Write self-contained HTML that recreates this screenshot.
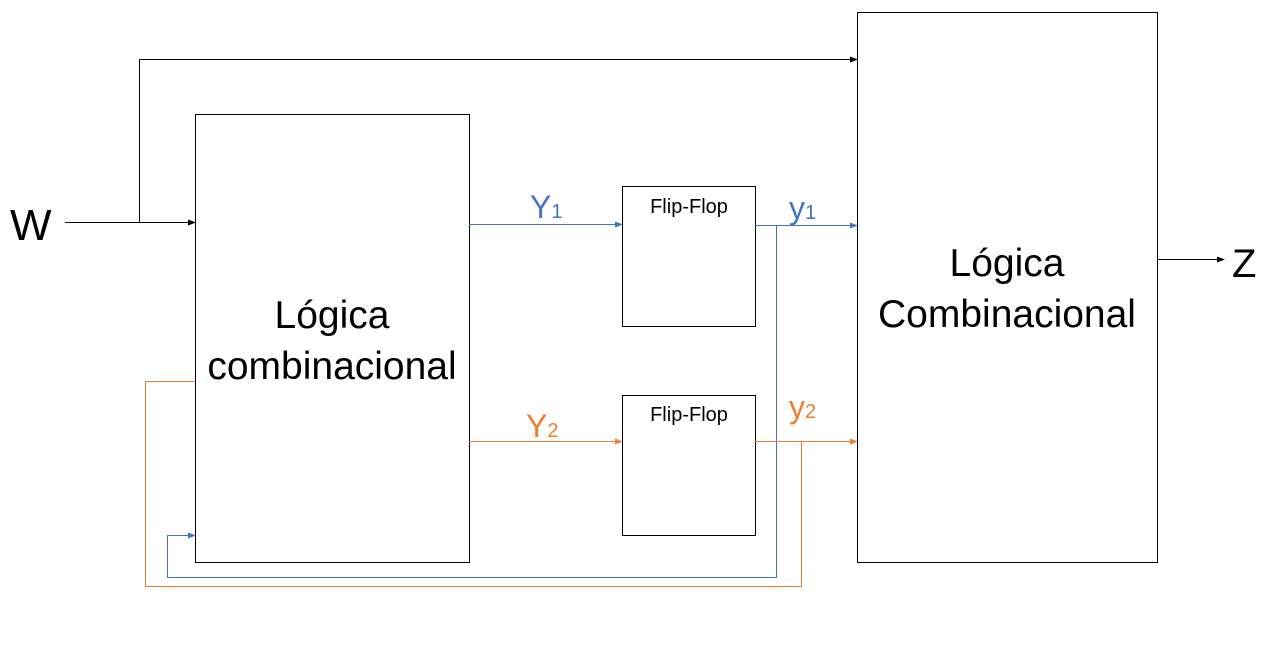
<!DOCTYPE html>
<html><head><meta charset="utf-8"><style>
html,body{margin:0;padding:0;background:#fff;}
svg{display:block;font-family:"Liberation Sans",sans-serif;}
</style></head><body>
<svg width="1281" height="649" viewBox="0 0 1281 649">
<defs>
<marker id="ab" markerWidth="8" markerHeight="8" refX="7" refY="4" orient="auto" markerUnits="userSpaceOnUse"><path d="M0,1 L8,4 L0,7z" fill="#000"/></marker>
<marker id="abl" markerWidth="8" markerHeight="8" refX="7" refY="4" orient="auto" markerUnits="userSpaceOnUse"><path d="M0,1 L8,4 L0,7z" fill="#4472C4"/></marker>
<marker id="aor" markerWidth="8" markerHeight="8" refX="7" refY="4" orient="auto" markerUnits="userSpaceOnUse"><path d="M0,1 L8,4 L0,7z" fill="#ED7D31"/></marker>
</defs>
<g fill="#fff" stroke="#000" stroke-width="1">
<rect x="195.5" y="114.5" width="274" height="448"/>
<rect x="622.5" y="186.5" width="133" height="140"/>
<rect x="622.5" y="395.5" width="133" height="140"/>
<rect x="857.5" y="12.5" width="300" height="550"/>
</g>
<g fill="none" stroke-width="1">
<path d="M65,222.5 H195" stroke="#000" marker-end="url(#ab)"/>
<path d="M139.5,222 V59.5 H857" stroke="#000" marker-end="url(#ab)"/>
<path d="M1157,259.5 H1224" stroke="#000" marker-end="url(#ab)"/>
<path d="M469,224.5 H622" stroke="#4472C4" marker-end="url(#abl)"/>
<path d="M755,225.5 H857" stroke="#4472C4" marker-end="url(#abl)"/>
<path d="M776.5,225 V577.5 H167.5 V535.5 H195" stroke="#4472C4" marker-end="url(#abl)"/>
<path d="M469,441.5 H622" stroke="#ED7D31" marker-end="url(#aor)"/>
<path d="M755,441.5 H857" stroke="#ED7D31" marker-end="url(#aor)"/>
<path d="M801.5,441 V586.5 H145.5 V381.5 H195" stroke="#ED7D31"/>
</g>
<text x="10" y="240" font-size="44">W</text>
<text x="1232" y="277" font-size="40">Z</text>
<g font-size="39" text-anchor="middle" fill="#000">
<text x="332" y="328">Lógica</text>
<text x="332" y="379">combinacional</text>
<text x="1007" y="276">Lógica</text>
<text x="1007" y="327">Combinacional</text>
</g>
<g font-size="20" text-anchor="middle">
<text x="689" y="213">Flip-Flop</text>
<text x="689" y="421">Flip-Flop</text>
</g>
<text x="530" y="218" font-size="32" fill="#4472C4">Y<tspan font-size="20">1</tspan></text>
<text x="789" y="219" font-size="32" fill="#4472C4">y<tspan font-size="20">1</tspan></text>
<text x="526" y="437" font-size="32" fill="#ED7D31">Y<tspan font-size="20">2</tspan></text>
<text x="789" y="418" font-size="32" fill="#ED7D31">y<tspan font-size="20">2</tspan></text>
</svg>
</body></html>
